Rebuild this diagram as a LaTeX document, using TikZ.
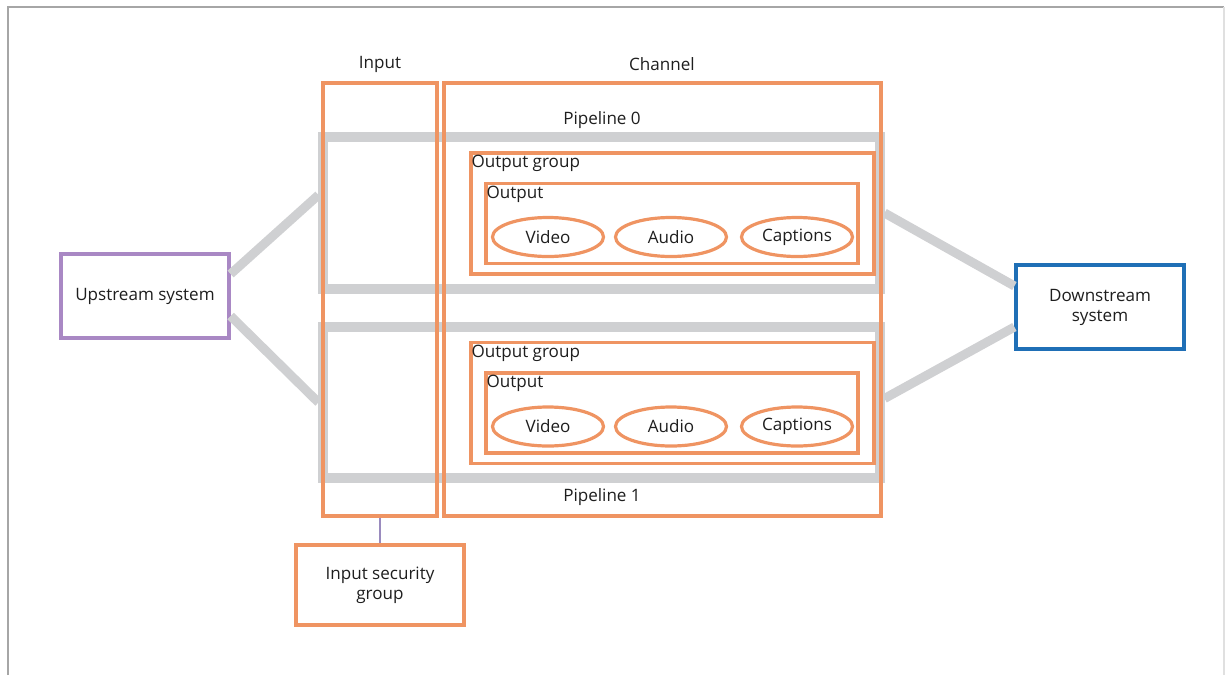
\documentclass[tikz,border=0pt]{standalone}
\usepackage{fontspec}
\setmainfont{Open Sans}
\usepackage{xcolor}
\usetikzlibrary{positioning,shapes.geometric}

\definecolor{boxorange}{HTML}{EF9462}
\definecolor{pipegray}{HTML}{CFD0D2}
\definecolor{uppurple}{HTML}{A988C4}
\definecolor{downblue}{HTML}{1F6FB6}
\definecolor{linkpurple}{HTML}{9A8BBE}
\definecolor{txt}{HTML}{1E1E1E}

\tikzset{
  orangebox/.style={draw=boxorange, line width=2.6pt, rectangle, inner sep=0pt},
  pipebox/.style={draw=pipegray, line width=6.8pt, rectangle, inner sep=0pt},
  stream/.style={draw=pipegray, line width=6.8pt},
  trackoval/.style={draw=boxorange, line width=2.4pt, ellipse, inner sep=0pt,
    minimum width=83.25pt, minimum height=29.25pt},
  corner/.style={anchor=north west, inner sep=1.5pt, yshift=-1.5pt},
}

\begin{document}
\begin{tikzpicture}[x=0.75pt, y=-0.75pt, text=txt, font=\fontsize{12.8}{15}\selectfont]
  \useasboundingbox (0,0) rectangle (1225,675);
  % frame
  \draw[color=black!35, line width=1pt] (8,675) -- (8,7) -- (1224,7);
  \draw[color=black!12, line width=1pt] (1224,7) -- (1224,675);

  % pipelines (under the orange boxes)
  \node [pipebox, minimum width=417.75pt, minimum height=114pt] (pipe0) at (601.5,213) {};
  \node [pipebox, minimum width=417.75pt, minimum height=113.25pt] (pipe1) at (601.5,402.5) {};

  % end systems
  \node [draw=uppurple, line width=2.4pt, rectangle, minimum width=126pt, minimum height=63pt]
    (upstream) at (145,296) {Upstream system};
  \node [draw=downblue, line width=2.4pt, rectangle, minimum width=126pt, minimum height=63pt,
    align=center] (downstream) at (1100,307) {Downstream\\system};

  % gray links
  \draw [stream] ([yshift=16.5pt]upstream.east) -- ([yshift=13.5pt]pipe0.west);
  \draw [stream] ([yshift=-15pt]upstream.east) -- ([yshift=0pt]pipe1.west);
  \draw [stream] ([yshift=0pt]pipe0.east) -- ([yshift=15.75pt]downstream.west);
  \draw [stream] ([yshift=3pt]pipe1.east) -- ([yshift=-15pt]downstream.west);

  % input and channel
  \node [orangebox, minimum width=85.5pt, minimum height=324.75pt] (input) at (380,299.5) {};
  \node [orangebox, minimum width=327.75pt, minimum height=324.75pt] (channel) at (662.5,299.5) {};
  \node (inputlbl) at (380,64) {Input};
  \node (channellbl) at (662,64) {Channel};
  \node (pipe0lbl) at (602,120) {Pipeline 0};
  \node (pipe1lbl) at (602,497) {Pipeline 1};

  % output groups
  \foreach \k/\y in {0/0, 1/189.5} {
    \node [orangebox, minimum width=302.25pt, minimum height=90.75pt] (group\k) at (672.5,213.5+\y) {};
    \node [corner] at (group\k.north west) {Output group};
    \node [orangebox, minimum width=279pt, minimum height=60pt] (out\k) at (672,223.5+\y) {};
    \node [corner] at (out\k.north west) {Output};
    \node [trackoval] (video\k) at (548,237+\y) {Video};
    \node [trackoval] (audio\k) at (671,237+\y) {Audio};
    \node [trackoval] (captions\k) at (797,237+\y) {Captions};
  }

  % security group
  \node [orangebox, minimum width=126pt, minimum height=60pt, align=center]
    (isg) at (380,585) {Input security\\group};
  \draw [color=linkpurple, line width=1.1pt] (input.south) -- (isg.north);
\end{tikzpicture}
\end{document}
